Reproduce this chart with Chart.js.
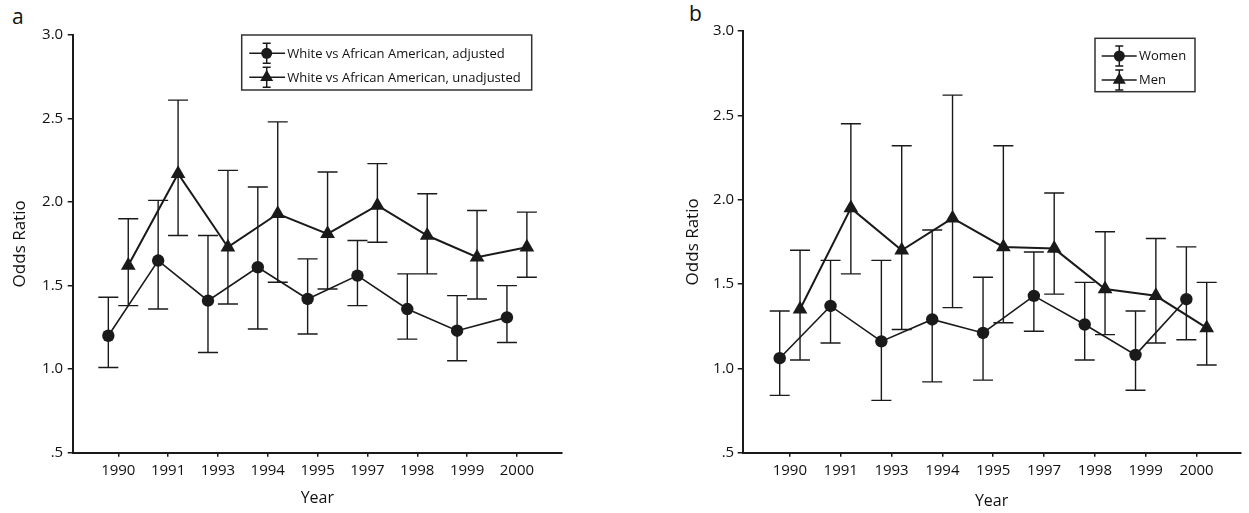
<!DOCTYPE html>
<html>
<head>
<meta charset="utf-8">
<script src="https://cdn.jsdelivr.net/npm/chart.js@4.4.1/dist/chart.umd.min.js"></script>
<style>
  html, body { margin: 0; padding: 0; background: #fff; }
  body { width: 1249px; height: 513px; position: relative; overflow: hidden; font-family: "Open Sans", sans-serif; }
  .panel { position: absolute; top: 0; height: 513px; }
  #panelA { left: 0; width: 640px; }
  #panelB { left: 640px; width: 609px; }
  .letter { position: absolute; font-family: "Open Sans", sans-serif; font-size: 21px; line-height: 21px; color: #111; }
</style>
</head>
<body>
<div class="letter" style="left:12px; top:6px;">a</div>
<div class="letter" style="left:689px; top:3px;">b</div>
<div class="panel" id="panelA"><canvas id="chartA" width="640" height="513"></canvas></div>
<div class="panel" id="panelB"><canvas id="chartB" width="609" height="513"></canvas></div>
<script>
// ---------- data ----------
const years = ['1990', '1991', '1993', '1994', '1995', '1997', '1998', '1999', '2000'];

// Panel a
const adjustedOR = [1.20, 1.65, 1.41, 1.61, 1.42, 1.56, 1.36, 1.23, 1.31];
const adjustedLo = [1.01, 1.36, 1.10, 1.24, 1.21, 1.38, 1.18, 1.05, 1.16];
const adjustedHi = [1.43, 2.01, 1.80, 2.09, 1.66, 1.77, 1.57, 1.44, 1.50];
const unadjustedOR = [1.62, 2.17, 1.73, 1.93, 1.81, 1.98, 1.80, 1.67, 1.73];
const unadjustedLo = [1.38, 1.80, 1.39, 1.52, 1.48, 1.76, 1.57, 1.42, 1.55];
const unadjustedHi = [1.90, 2.61, 2.19, 2.48, 2.18, 2.23, 2.05, 1.95, 1.94];

// Panel b
const womenOR = [1.06, 1.37, 1.16, 1.29, 1.21, 1.43, 1.26, 1.08, 1.41];
const womenLo = [0.84, 1.15, 0.81, 0.92, 0.93, 1.22, 1.05, 0.87, 1.17];
const womenHi = [1.34, 1.64, 1.64, 1.82, 1.54, 1.69, 1.51, 1.34, 1.72];
const menOR = [1.35, 1.95, 1.70, 1.89, 1.72, 1.71, 1.47, 1.43, 1.24];
const menLo = [1.05, 1.56, 1.23, 1.36, 1.27, 1.44, 1.20, 1.15, 1.02];
const menHi = [1.70, 2.45, 2.32, 2.62, 2.32, 2.04, 1.81, 1.77, 1.51];

// axis ticks
const yTickValues = [0.5, 1.0, 1.5, 2.0, 2.5, 3.0];
const yTickLabels = ['.5', '1.0', '1.5', '2.0', '2.5', '3.0'];

const legendLabelsA = ['White vs African American, adjusted', 'White vs African American, unadjusted'];
const legendLabelsB = ['Women', 'Men'];

// ---------- helpers ----------
const INK = '#1a1a1a';
const FONT = '"Open Sans", sans-serif';
const SHIFT = 0.2; // horizontal dodge of the two series around each year

function toPoints(values, shift) {
  return values.map((v, i) => ({ x: i + shift, y: v }));
}

function makeDataset(label, values, lo, hi, shift, style) {
  return {
    label,
    data: toPoints(values, shift),
    errLo: lo,
    errHi: hi,
    showLine: true,
    borderColor: INK,
    backgroundColor: INK,
    borderWidth: style === 'circle' ? 1.6 : 2.0,
    pointStyle: style,
    pointRadius: style === 'circle' ? 6.2 : 8.5,
    pointBorderWidth: 0,
    pointBackgroundColor: INK,
    tension: 0
  };
}

const errorBarPlugin = {
  id: 'errorBars',
  afterDatasetsDraw(chart) {
    const ctx = chart.ctx;
    const yScale = chart.scales.y;
    ctx.save();
    ctx.strokeStyle = INK;
    ctx.lineWidth = 1.4;
    chart.data.datasets.forEach((ds, di) => {
      const meta = chart.getDatasetMeta(di);
      meta.data.forEach((pt, j) => {
        const x = pt.x;
        const yLo = yScale.getPixelForValue(ds.errLo[j]);
        const yHi = yScale.getPixelForValue(ds.errHi[j]);
        const cap = 10;
        ctx.beginPath();
        ctx.moveTo(x, yHi); ctx.lineTo(x, yLo);
        ctx.moveTo(x - cap, yHi); ctx.lineTo(x + cap, yHi);
        ctx.moveTo(x - cap, yLo); ctx.lineTo(x + cap, yLo);
        ctx.stroke();
      });
    });
    ctx.restore();
  }
};

const boxLegendPlugin = {
  id: 'boxLegend',
  afterDraw(chart, args, opts) {
    if (!opts || !opts.items) return;
    const ctx = chart.ctx;
    ctx.save();
    ctx.strokeStyle = '#333';
    ctx.lineWidth = 1.5;
    ctx.strokeRect(opts.box[0], opts.box[1], opts.box[2], opts.box[3]);
    ctx.font = opts.fontSize + 'px ' + FONT;
    ctx.textBaseline = 'middle';
    ctx.textAlign = 'left';
    opts.items.forEach((item, k) => {
      const y = opts.rows[k];
      const cx = opts.markerX;
      // line
      ctx.strokeStyle = INK;
      ctx.lineWidth = 1.5;
      ctx.beginPath();
      ctx.moveTo(opts.lineFrom, y); ctx.lineTo(opts.lineTo, y);
      // error glyph
      ctx.moveTo(cx, y - 10); ctx.lineTo(cx, y + 10);
      ctx.moveTo(cx - 4, y - 10); ctx.lineTo(cx + 4, y - 10);
      ctx.moveTo(cx - 4, y + 10); ctx.lineTo(cx + 4, y + 10);
      ctx.stroke();
      // marker
      ctx.fillStyle = INK;
      ctx.beginPath();
      if (item.style === 'circle') {
        ctx.arc(cx, y, 5.5, 0, Math.PI * 2);
      } else {
        const r = 7.5;
        ctx.moveTo(cx, y - r);
        ctx.lineTo(cx + r * 0.866, y + r * 0.5);
        ctx.lineTo(cx - r * 0.866, y + r * 0.5);
        ctx.closePath();
      }
      ctx.fill();
      ctx.fillStyle = '#111';
      ctx.fillText(item.label, opts.textX, y + 0.5);
    });
    ctx.restore();
  }
};

function makeOptions(cfg) {
  return {
    responsive: false,
    animation: false,
    events: [],
    layout: { padding: { top: cfg.top, right: cfg.right, left: 0, bottom: 0 } },
    plugins: {
      legend: { display: false },
      tooltip: { enabled: false },
      boxLegend: cfg.legend
    },
    scales: {
      x: {
        type: 'linear',
        min: cfg.xMin,
        max: cfg.xMax,
        afterBuildTicks: (s) => { s.ticks = years.map((_, i) => ({ value: i })); },
        afterFit: (s) => { s.height = cfg.xHeight; },
        ticks: {
          autoSkip: false,
          maxRotation: 0,
          padding: 5.5,
          color: '#111',
          font: { family: FONT, size: 15 },
          callback: (v) => years[v]
        },
        grid: { display: true, drawOnChartArea: false, drawTicks: true, tickLength: 4, color: INK, lineWidth: 1.5 },
        border: { display: true, color: INK, width: 2 },
        title: {
          display: true, text: 'Year', color: '#111',
          font: { family: FONT, size: 16 },
          padding: { top: 0, bottom: cfg.yearPad }
        }
      },
      y: {
        type: 'linear',
        min: 0.5,
        max: 3.0,
        afterBuildTicks: (s) => { s.ticks = yTickValues.map(v => ({ value: v })); },
        afterFit: (s) => { s.width = cfg.yWidth; },
        ticks: {
          padding: cfg.yTickPad,
          color: '#111',
          font: { family: FONT, size: 15 },
          callback: (v, i) => yTickLabels[i]
        },
        grid: { display: true, drawOnChartArea: false, drawTicks: true, tickLength: 5, color: INK, lineWidth: 1.5 },
        border: { display: true, color: INK, width: 2 },
        title: {
          display: true, text: 'Odds Ratio', color: '#111',
          font: { family: FONT, size: 17 },
          padding: { top: cfg.oddsPad, bottom: 0 }
        }
      }
    }
  };
}

new Chart(document.getElementById('chartA'), {
  type: 'scatter',
  data: {
    datasets: [
      makeDataset(legendLabelsA[0], adjustedOR, adjustedLo, adjustedHi, -SHIFT, 'circle'),
      makeDataset(legendLabelsA[1], unadjustedOR, unadjustedLo, unadjustedHi, SHIFT, 'triangle')
    ]
  },
  options: makeOptions({
    top: 35, right: 78, xMin: -0.915, xMax: 8.905, xHeight: 60.3, yWidth: 72.7,
    yTickPad: 4.5, oddsPad: 9.8, yearPad: 5.4,
    legend: {
      box: [241.7, 35, 290, 55],
      rows: [53.3, 77.3],
      lineFrom: 249.3, lineTo: 285, markerX: 266.7, textX: 287.3, fontSize: 13,
      items: [{ label: legendLabelsA[0], style: 'circle' }, { label: legendLabelsA[1], style: 'triangle' }]
    }
  }),
  plugins: [errorBarPlugin, boxLegendPlugin]
});

new Chart(document.getElementById('chartB'), {
  type: 'scatter',
  data: {
    datasets: [
      makeDataset(legendLabelsB[0], womenOR, womenLo, womenHi, -SHIFT, 'circle'),
      makeDataset(legendLabelsB[1], menOR, menLo, menHi, SHIFT, 'triangle')
    ]
  },
  options: makeOptions({
    top: 31, right: 0, xMin: -0.928, xMax: 8.865, xHeight: 60.3, yWidth: 102.7,
    yTickPad: 3.5, oddsPad: 42.8, yearPad: 1.7,
    legend: {
      box: [455, 38.3, 100, 53.4],
      rows: [56, 80],
      lineFrom: 461.7, lineTo: 496.7, markerX: 479.3, textX: 499, fontSize: 13,
      items: [{ label: legendLabelsB[0], style: 'circle' }, { label: legendLabelsB[1], style: 'triangle' }]
    }
  }),
  plugins: [errorBarPlugin, boxLegendPlugin]
});
</script>
</body>
</html>
